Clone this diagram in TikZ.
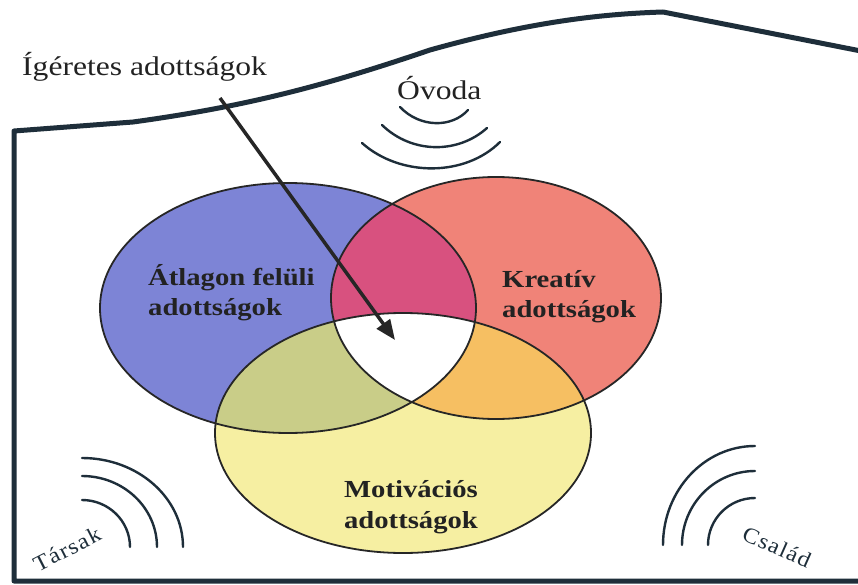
\documentclass[tikz,border=0pt]{standalone}
\usepackage{fontspec}
\setmainfont{Liberation Serif}[FakeStretch=1.17]
\newfontfamily\spacedfont{Liberation Serif}[FakeStretch=1.1,LetterSpace=6]
\usetikzlibrary{arrows.meta}
\definecolor{blueF}{RGB}{125,132,214}
\definecolor{redF}{RGB}{240,131,120}
\definecolor{pinkF}{RGB}{216,81,127}
\definecolor{yellowF}{RGB}{246,239,162}
\definecolor{oliveF}{RGB}{201,205,136}
\definecolor{orangeF}{RGB}{246,191,98}
\definecolor{navy}{RGB}{30,46,58}
\definecolor{txt}{RGB}{34,34,34}
\begin{document}
\begin{tikzpicture}[x=1pt,y=-1pt,
  lbl/.style={font=\fontsize{24.5}{30}\selectfont\bfseries, text=txt, inner sep=0pt},
  big/.style={font=\fontsize{27}{32}\selectfont, text=txt, inner sep=0pt},
  small/.style={font=\spacedfont\fontsize{22}{26}\selectfont, text=navy, inner sep=0pt},
  wave/.style={line width=2.4pt, draw=navy, line cap=round},
  rim/.style={line width=1.8pt, draw=black!85},
  frame/.style={line width=5pt, draw=navy},
  pointer/.style={line width=3.5pt, draw=black!85, -{Triangle[length=20pt,width=16pt]}}]
\useasboundingbox (0,0) rectangle (858,585);
\fill[white] (0,0) rectangle (858,585);
% frame
\draw[frame, line join=round] (866,52) -- (663,12)
  .. controls (600,14) and (530,22) .. (430,50)
  .. controls (330,84) and (250,106) .. (133,122)
  -- (14,131) -- (14,581) -- (866,581);
% venn
\def\venA{(288,308) ellipse [x radius=188, y radius=125]}
\def\venB{(496,298) ellipse [x radius=165, y radius=121]}
\def\venC{(403,433) ellipse [x radius=188, y radius=120]}
\fill[blueF] \venA;
\fill[redF] \venB;
\fill[yellowF] \venC;
\begin{scope}
  \clip \venA;
  \fill[pinkF] \venB;
  \fill[oliveF] \venC;
\end{scope}
\begin{scope}
  \clip \venB;
  \fill[orangeF] \venC;
  \clip \venA;
  \fill[white] \venC;
\end{scope}
\draw[rim] \venA;
\draw[rim] \venB;
\draw[rim] \venC;
% waves Ovoda
\draw[wave] (400,107) .. controls (420,128) and (452,128) .. (468,110);
\draw[wave] (382,125) .. controls (412,154) and (458,154) .. (487,128);
\draw[wave] (362,143) .. controls (400,177) and (465,177) .. (500,142);
% waves Tarsak
\draw[wave] (82,458) arc[start angle=-90, end angle=0, x radius=101, y radius=89];
\draw[wave] (82,476) arc[start angle=-90, end angle=0, x radius=75, y radius=71];
\draw[wave] (82,500) arc[start angle=-90, end angle=0, x radius=48, y radius=47];
% waves Csalad
\draw[wave] (755,446) arc[start angle=-90, end angle=-180, x radius=92, y radius=99];
\draw[wave] (755,471) arc[start angle=-90, end angle=-180, x radius=73, y radius=74];
\draw[wave] (755,498) arc[start angle=-90, end angle=-180, x radius=47, y radius=47];
% texts
\node[big, anchor=base west] (ig) at (22,76) {Ígéretes adottságok};
\node[big, anchor=base west] (ov) at (397,100) {Óvoda};
\node[lbl, anchor=base west] (a1) at (148,285) {Átlagon felüli};
\node[lbl, anchor=base west] (a2) at (148,315) {adottságok};
\node[lbl, anchor=base west] (k1) at (502,287) {Kreatív};
\node[lbl, anchor=base west] (k2) at (502,317) {adottságok};
\node[lbl, anchor=base] (m1) at (411,497) {Motivációs};
\node[lbl, anchor=base] (m2) at (411,528) {adottságok};
\node[small, rotate=27] (ts) at (67,549) {Társak};
\node[small, rotate=-24] (cs) at (777,547) {Család};
% arrow
\coordinate (pstart) at (220,98);
\coordinate (ptip) at (395,340);
\draw[pointer] (pstart) -- (ptip);
\end{tikzpicture}
\end{document}
